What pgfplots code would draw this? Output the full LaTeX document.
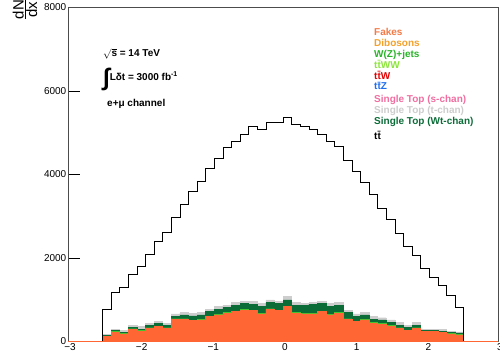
\documentclass[border=0pt]{standalone}
\usepackage{fontspec}
\setmainfont{Liberation Sans}
\usepackage{pgfplots}
\pgfplotsset{compat=1.18}
\usepackage{pgfplotstable}

\definecolor{fakesfill}{RGB}{255,102,51}
\definecolor{fakestxt}{RGB}{242,122,72}
\definecolor{dibos}{RGB}{245,160,40}
\definecolor{wjets}{RGB}{40,180,40}
\definecolor{ttww}{RGB}{140,230,60}
\definecolor{ttw}{RGB}{230,0,0}
\definecolor{ttz}{RGB}{30,110,240}
\definecolor{schan}{RGB}{240,110,160}
\definecolor{tchan}{RGB}{205,205,205}
\definecolor{wtchan}{RGB}{12,108,56}

% Stacked backgrounds, bin left edges (width 0.12); columns hold the top of each layer
\pgfplotstableread{
x      fakes wjets wt   tchan
-3.00  0     0     0    0
-2.88  0     0     0    0
-2.76  0     0     0    0
-2.64  0     0     0    0
-2.52  116   128   140  172
-2.40  220   235   259  299
-2.28  180   195   220  259
-2.16  291   306   331  379
-2.04  251   266   299  355
-1.92  315   330   379  435
-1.80  355   370   435  475
-1.68  315   330   379  435
-1.56  531   546   595  659
-1.44  531   546   635  690
-1.32  499   514   611  675
-1.20  515   530   635  690
-1.08  595   610   715  778
-0.96  635   650   770  834
-0.84  675   690   818  874
-0.72  715   730   874  930
-0.60  754   769   914  970
-0.48  738   753   898  954
-0.36  659   674   850  914
-0.24  770   785   930  994
-0.12  738   753   914  970
 0.00  835   850   994  1074
 0.12  675   690   874  930
 0.24  659   674   874  914
 0.36  659   674   898  930
 0.48  715   730   914  970
 0.60  635   650   850  914
 0.72  675   690   874  930
 0.84  531   546   690  754
 0.96  475   490   595  659
 1.08  515   530   635  690
 1.20  436   451   531  595
 1.32  419   434   515  570
 1.44  371   386   459  515
 1.56  315   330   395  451
 1.68  259   274   339  395
 1.80  315   330   395  451
 1.92  235   245   259  299
 2.04  235   245   259  299
 2.16  211   224   251  291
 2.28  180   192   211  251
 2.40  156   170   204  228
 2.52  0     0     0    0
 2.64  0     0     0    0
 2.76  0     0     0    0
 2.88  0     0     0    0
 3.00  0     0     0    0
}\stack

% ttbar distribution
\pgfplotstableread{
x      tt
-2.52  0
-2.52  771
-2.40  1169
-2.28  1298
-2.16  1617
-2.04  1808
-1.92  2080
-1.80  2391
-1.68  2606
-1.56  2974
-1.44  3293
-1.32  3589
-1.20  3844
-1.08  4148
-0.96  4387
-0.84  4651
-0.72  4786
-0.60  4962
-0.48  5162
-0.36  5082
-0.24  5241
-0.12  5241
 0.00  5370
 0.12  5210
 0.24  5162
 0.36  5082
 0.48  4962
 0.60  4786
 0.72  4683
 0.84  4331
 0.96  4068
 1.08  3804
 1.20  3533
 1.32  3180
 1.44  2934
 1.56  2591
 1.68  2287
 1.80  2072
 1.92  1753
 2.04  1529
 2.16  1353
 2.28  1114
 2.40  819
 2.52  0
}\ttbar

\begin{document}
\begin{tikzpicture}
\begin{axis}[
  scale only axis,
  width=430pt, height=334pt,
  xmin=-3, xmax=3, ymin=0, ymax=8000,
  xtick={-3,-2,-1,0,1,2,3},
  xticklabels={−3,−2,−1,0,1,2,3},
  ytick={0,2000,4000,6000,8000},
  scaled y ticks=false,
  /pgf/number format/assume math mode=true,
  yticklabel style={/pgf/number format/1000 sep={}},
  xticklabel style={xshift=2pt, yshift=-0.5pt},
  tick label style={font=\fontsize{10}{12}\selectfont, inner sep=1.5pt},
  tick pos=left,
  tick align=inside,
  major tick length=12pt,
  tick style={black, line width=0.6pt},
  axis line style={black!70, line width=0.6pt},
]
\addplot[const plot mark left, fill=tchan, draw=tchan] table[x=x, y=tchan] {\stack} \closedcycle;
\addplot[const plot mark left, fill=wtchan, draw=wtchan] table[x=x, y=wt] {\stack} \closedcycle;
\addplot[const plot mark left, fill=wjets!70!ttww, draw=wjets!70!ttww] table[x=x, y=wjets] {\stack} \closedcycle;
\addplot[const plot mark left, fill=fakesfill, draw=fakesfill] table[x=x, y=fakes] {\stack} \closedcycle;
\addplot[const plot mark left, draw=black, line width=0.6pt] table[x=x, y=tt] {\ttbar};
\coordinate (bl) at (rel axis cs:0,0);
\coordinate (tl) at (rel axis cs:0,1);
\coordinate (tr) at (rel axis cs:1,1);
\end{axis}

% y-axis title
\node[rotate=90, anchor=east, inner sep=0pt, font=\fontsize{15}{17}\selectfont]
  at ([shift={(-43pt,9pt)}]tl) {$\frac{\mbox{dN}}{\mbox{dx}}$};

% run conditions
\begin{scope}[every node/.style={anchor=base west, inner sep=0pt, font=\bfseries\fontsize{10}{12}\selectfont}]
\node at ([shift={(35pt,-49.5pt)}]tl) {$\sqrt{\mbox{\bfseries s}}$ = 14 TeV};
\node at ([shift={(35pt,-73pt)}]tl) {\raisebox{-5pt}{\fontsize{24}{24}\selectfont ∫}Lδt = 3000 fb\raisebox{4pt}{\fontsize{7}{8}\selectfont -1}};
\node at ([shift={(39pt,-99pt)}]tl) {e+μ channel};
\end{scope}

% legend
\begin{scope}[every node/.style={anchor=base west, inner sep=0pt, font=\bfseries\fontsize{10}{12}\selectfont}]
\node[text=fakestxt] at ([shift={(306pt,-28.2pt)}]tl) {Fakes};
\node[text=dibos]    at ([shift={(306pt,-39.2pt)}]tl) {Dibosons};
\node[text=wjets]    at ([shift={(306pt,-49.8pt)}]tl) {W(Z)+jets};
\node[text=ttww]     at ([shift={(306pt,-60.8pt)}]tl) {t\={t}WW};
\node[text=ttw]      at ([shift={(306pt,-71.8pt)}]tl) {t\={t}W};
\node[text=ttz]      at ([shift={(306pt,-82.5pt)}]tl) {t\={t}Z};
\node[text=schan]    at ([shift={(306pt,-94.8pt)}]tl) {Single Top (s-chan)};
\node[text=tchan]    at ([shift={(306pt,-105.8pt)}]tl) {Single Top (t-chan)};
\node[text=wtchan]   at ([shift={(306pt,-116.8pt)}]tl) {Single Top (Wt-chan)};
\node[text=black]    at ([shift={(306pt,-131.8pt)}]tl) {t\={t}};
\end{scope}

\pgfresetboundingbox
\path[use as bounding box] ([shift={(-68pt,-16.5pt)}]bl) rectangle ([shift={(2pt,7.5pt)}]tr);
\end{tikzpicture}
\end{document}
